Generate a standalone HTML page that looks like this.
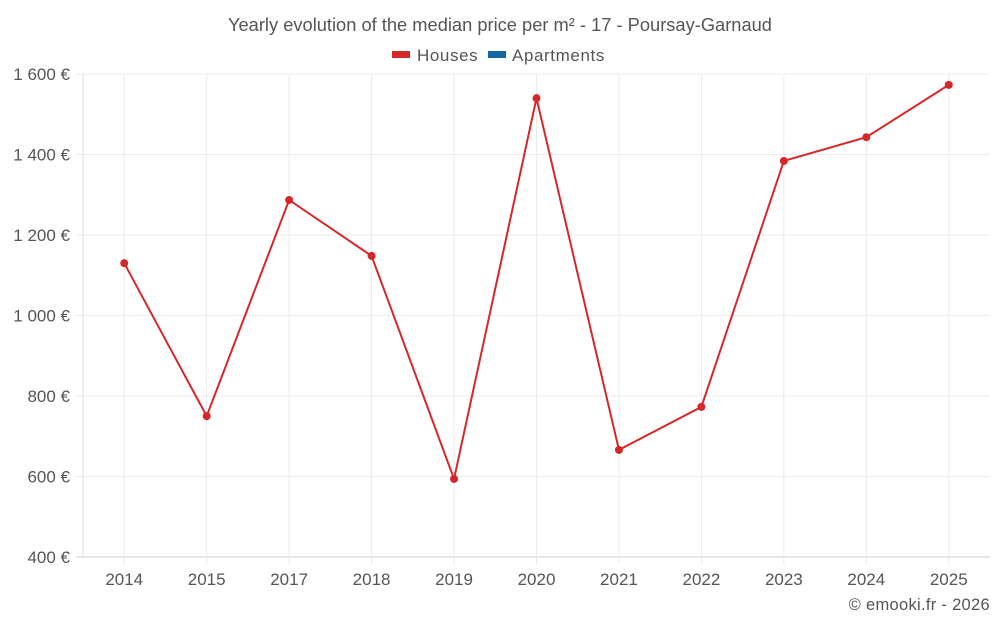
<!DOCTYPE html>
<html><head><meta charset="utf-8"><style>
html,body{margin:0;padding:0;background:#fff;}
svg{display:block;font-family:"Liberation Sans",sans-serif;}
</style></head><body>
<svg id="chart" width="1000" height="625">
<text x="500" y="31" text-anchor="middle" font-size="18.3" fill="#555">Yearly evolution of the median price per m² - 17 - Poursay-Garnaud</text>
<g>
<g><rect x="392" y="51" width="18" height="7" fill="#d62728"/><text x="417" y="61" font-size="17" letter-spacing="0.6" fill="#555">Houses</text></g>
<g><rect x="488" y="51" width="18" height="7" fill="#1565a0"/><text x="512" y="61" font-size="17" letter-spacing="0.6" fill="#555">Apartments</text></g>
</g>
<g id="grid"></g><g id="axes"></g><g id="series"></g>
<text x="990" y="610" text-anchor="end" font-size="16.5" letter-spacing="0.3" fill="#555">© emooki.fr - 2026</text>
</svg>
<script>
const categories=["2014","2015","2017","2018","2019","2020","2021","2022","2023","2024","2025"];
const housesValues=[1130,750,1287,1148,594,1540,666,773,1384,1443,1573];
const yTicks=[400,600,800,1000,1200,1400,1600];
const yTickLabels=["400 €","600 €","800 €","1 000 €","1 200 €","1 400 €","1 600 €"];
const NS="http://www.w3.org/2000/svg";
const L=83,R=990,T=74,B=557,yMin=400,yMax=1600;
const band=(R-L)/categories.length;
const x=i=>L+band*(i+0.5);
const y=v=>B-(v-yMin)/(yMax-yMin)*(B-T);
function mk(tag,attrs,parent){const e=document.createElementNS(NS,tag);for(const k in attrs)e.setAttribute(k,attrs[k]);parent.appendChild(e);return e;}
const grid=document.getElementById('grid'),axes=document.getElementById('axes'),series=document.getElementById('series');
yTicks.forEach((v,i)=>{
 const ln=mk('line',{x1:76,x2:R,y1:y(v),y2:y(v),stroke:i==0?'#ccc':'#ebebeb','stroke-width':1},grid);
 
 
 const t=mk('text',{x:70,y:y(v)+6,'text-anchor':'end','font-size':17,fill:'#555'},axes);
 t.textContent=yTickLabels[i];
 
 
});
categories.forEach((c,i)=>{
 const ln=mk('line',{x1:x(i),x2:x(i),y1:T,y2:B+8,stroke:'#ebebeb','stroke-width':1},grid);
 
 
 const t=mk('text',{x:x(i),y:585,'text-anchor':'middle','font-size':17,fill:'#555'},axes);
 t.textContent=c;
 
 
});
const ax=mk('line',{x1:L,x2:L,y1:T,y2:B,stroke:'#ddd'},axes);


const pl=mk('polyline',{points:housesValues.map((v,i)=>x(i)+','+y(v)).join(' '),fill:'none',stroke:'#d62728','stroke-width':2},series);


housesValues.forEach((v,i)=>{
 const c=mk('circle',{cx:x(i),cy:y(v),r:4,fill:'#d62728'},series);
 
 
});
</script>
</body></html>
